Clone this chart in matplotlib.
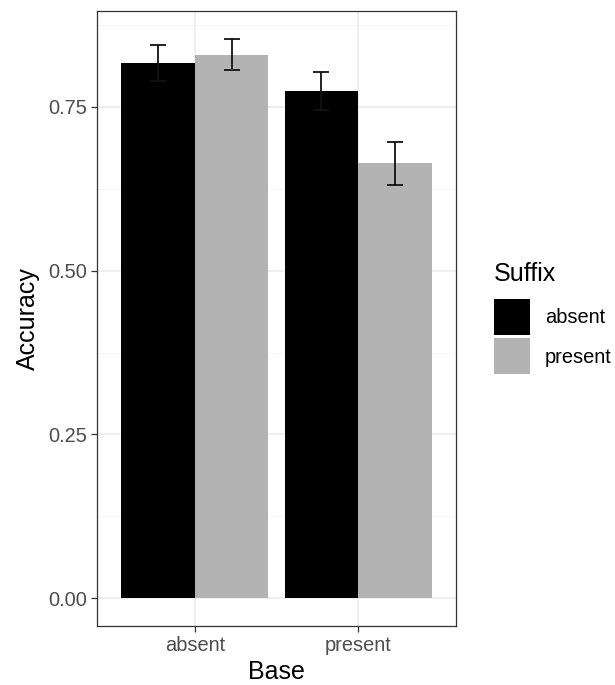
import numpy as np
import matplotlib
matplotlib.use('Agg')
import matplotlib.pyplot as plt
from matplotlib.patches import Patch
from matplotlib.ticker import MultipleLocator

plt.rcParams['font.family'] = ['Liberation Sans', 'DejaVu Sans']

# Data
base = ['absent', 'present']
suffix = ['absent', 'present']
acc_suffix_absent = [0.817, 0.774]
acc_suffix_present = [0.830, 0.664]
se_suffix_absent = [0.028, 0.029]
se_suffix_present = [0.024, 0.033]
yticks = [0.00, 0.25, 0.50, 0.75]
colors = ['black', '#B3B3B3']

fig = plt.figure(figsize=(6.15, 6.85), dpi=100)
ax = fig.add_axes([0.1577, 0.0861, 0.5838, 0.898])

x = np.arange(1, len(base) + 1)
w = 0.45
series = [(acc_suffix_absent, se_suffix_absent), (acc_suffix_present, se_suffix_present)]
for i, (vals, errs) in enumerate(series):
    pos = x + (i - 0.5) * w
    ax.bar(pos, vals, width=w, color=colors[i], zorder=2)
    ax.errorbar(pos, vals, yerr=errs, fmt='none', ecolor='#111111',
                elinewidth=1.3, capsize=6, capthick=1.3, zorder=3)

top = max(max(np.add(acc_suffix_absent, se_suffix_absent)),
          max(np.add(acc_suffix_present, se_suffix_present)))
ax.set_ylim(-0.05 * top, top * 1.05)
ax.set_xlim(0.4, 2.6)
ax.set_xticks(x)
ax.set_xticklabels(base)
ax.set_yticks(yticks)
ax.set_yticklabels(['%.2f' % v for v in yticks])
ax.yaxis.set_minor_locator(MultipleLocator(0.125))

ax.grid(which='major', color='#EBEBEB', linewidth=1.1, zorder=0)
ax.grid(which='minor', axis='y', color='#F4F4F4', linewidth=0.6, zorder=0)
ax.set_axisbelow(True)
for s in ax.spines.values():
    s.set_color('#333333')
    s.set_linewidth(0.9)
ax.tick_params(which='major', length=4, width=0.9, color='#333333',
               labelcolor='#4D4D4D', labelsize=14.4, pad=3)
ax.tick_params(which='minor', length=0)

ax.set_xlabel('Base', fontsize=18, color='black', labelpad=4)
ax.set_ylabel('Accuracy', fontsize=18, color='black', labelpad=6)

handles = [Patch(facecolor=c, edgecolor='none') for c in colors]
leg = fig.legend(handles, suffix, title='Suffix', loc='upper left',
                 bbox_to_anchor=(0.79, 0.629), frameon=False,
                 fontsize=14.4, title_fontsize=18,
                 handlelength=1.8, handleheight=2.4, labelspacing=0.18,
                 handletextpad=0.75, borderaxespad=0)
leg._legend_box.align = 'left'
leg._legend_box.sep = 9

fig.savefig('out.png', dpi=100)
